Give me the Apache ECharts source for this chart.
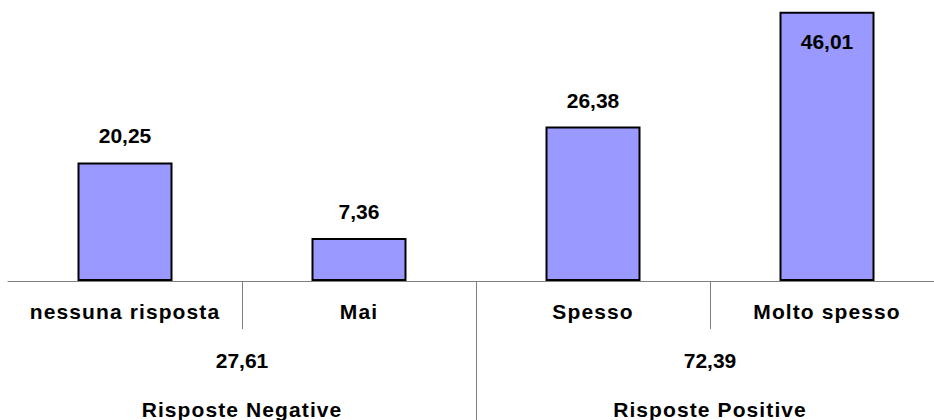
<!DOCTYPE html>
<html><head><meta charset="utf-8">
<script src="https://cdn.jsdelivr.net/npm/echarts@6/dist/echarts.min.js"></script>
<style>html,body{margin:0;padding:0;background:#fff}#c{width:934px;height:420px}</style>
</head><body><div id="c"></div>
<script>
const categories = ['nessuna risposta', 'Mai', 'Spesso', 'Molto spesso'];
const values = [20.25, 7.36, 26.38, 46.01];
const groupNames = ['Risposte Negative', 'Risposte Positive'];
const groupSizes = [2, 2];
const groupTotals = [27.61, 72.39];

const fmt = v => v.toFixed(2).replace('.', ',');
const FONT = '"Liberation Sans", Arial, sans-serif';

// group boundaries / centres in category-index units
const groupStarts = [];
const groupCenters = [];
let acc = 0;
groupSizes.forEach(s => { groupStarts.push(acc); groupCenters.push(acc + s / 2); acc += s; });
const innerBoundaries = groupStarts.slice(1);

const chart = echarts.init(document.getElementById('c'), null, {renderer: 'svg'});
const barData = values.map((v, i) => {
  const item = {value: v};
  if (i === values.length - 1) {
    item.label = {position: 'insideTop', distance: 19};
  }
  return item;
});

const txt = {color: '#000', fontFamily: FONT, fontWeight: 'bold', fontSize: 21};

chart.setOption({
  animation: false,
  backgroundColor: '#ffffff',
  grid: {left: 8, width: 936, top: 0, bottom: 139, containLabel: false, outerBoundsMode: 'none'},
  xAxis: [{
    type: 'category',
    data: categories,
    position: 'bottom',
    axisLine: {show: true, lineStyle: {color: '#808080', width: 1}},
    axisTick: {show: true, length: 48, interval: (i) => i !== 0, lineStyle: {color: '#808080'}},
    axisLabel: Object.assign({margin: 20, interval: 0}, txt)
  }, {
    type: 'value',
    min: 0,
    max: categories.length,
    position: 'bottom',
    axisLine: {show: false},
    splitLine: {show: false},
    axisTick: {show: true, length: 139, customValues: innerBoundaries, lineStyle: {color: '#808080'}},
    axisLabel: {
      customValues: groupCenters,
      margin: 55,
      formatter: (v) => {
        const i = groupCenters.indexOf(v);
        return '{a|' + fmt(groupTotals[i]) + '}\n{b|' + groupNames[i] + '}';
      },
      rich: {
        a: Object.assign({lineHeight: 49}, txt),
        b: Object.assign({lineHeight: 49}, txt)
      }
    }
  }],
  yAxis: {type: 'value', min: 0, max: 48, show: false, splitLine: {show: false}},
  series: [{
    type: 'bar',
    xAxisIndex: 0,
    data: barData,
    barWidth: 95,
    itemStyle: {color: '#9999FF', borderColor: '#000', borderWidth: 2},
    label: Object.assign({show: true, position: 'top', distance: 16, formatter: p => fmt(p.value)}, txt)
  }]
});

// the original renders word labels with slightly wider letter spacing
document.querySelectorAll('#c text').forEach(t => {
  if (!/^[\d,\s]+$/.test(t.textContent)) t.style.letterSpacing = '1.1px';
});
</script></body></html>
